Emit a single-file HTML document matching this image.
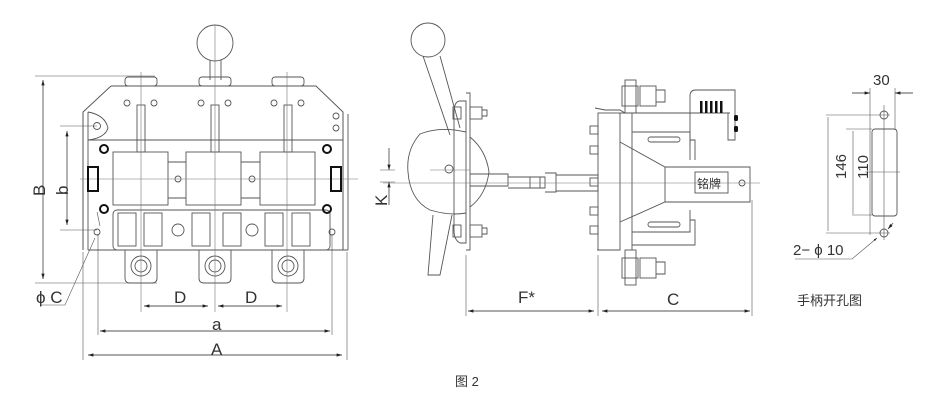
<!DOCTYPE html>
<html><head><meta charset="utf-8"><style>
html,body{margin:0;padding:0;background:#fff;width:928px;height:404px;overflow:hidden}
svg{display:block}
text{font-family:"Liberation Sans","Noto Sans CJK SC",sans-serif;fill:#333}
</style></head><body>
<svg width="928" height="404" viewBox="0 0 928 404" xmlns="http://www.w3.org/2000/svg">
<defs>
<marker id="ar" viewBox="0 0 10 10" refX="10" refY="5" markerWidth="6" markerHeight="6" orient="auto-start-reverse"><path d="M0,2 L10,5 L0,8 z" fill="#222"/></marker>
</defs>
<g fill="none" stroke="#555" stroke-width="0.9">
<circle cx="215" cy="43" r="18"/>
<path d="M210,60 V80 M221,60 V80"/>
<rect x="125" y="77" width="32" height="9" rx="3"/>
<rect x="199" y="77" width="32" height="9" rx="3"/>
<rect x="272" y="77" width="32" height="9" rx="3"/>
<path d="M111,86 H316 L343,112 V250 M111,86 L83,112 V250"/>
<path d="M83,112 V250 M88,112 V250 M343,112 V250 M348,114 V250"/>
<path d="M88,140 H343 M88,250 H348"/>
<path d="M88,112 Q105,115 108,128 Q105,138 88,140"/>
<rect x="113" y="152" width="55" height="53"/>
<rect x="186" y="152" width="55" height="53"/>
<rect x="260" y="152" width="55" height="53"/>
<path d="M168,162 H186 M241,162 H260 M168,198 H186 M241,198 H260"/>
<rect x="137" y="105" width="8" height="47"/><rect x="211" y="105" width="8" height="47"/><rect x="284" y="105" width="8" height="47"/>
<rect x="113" y="210" width="217" height="40" rx="4"/>
<rect x="118" y="213" width="18" height="33"/><rect x="144" y="213" width="18" height="33"/>
<rect x="192" y="213" width="18" height="33"/><rect x="223" y="213" width="18" height="33"/>
<rect x="265" y="213" width="18" height="33"/><rect x="292" y="213" width="18" height="33"/>
<circle cx="178" cy="230" r="6"/><circle cx="252" cy="230" r="6"/>
<path d="M125,250 V278 Q125,283 130,283 H152 Q157,283 157,278 V250 M199,250 V278 Q199,283 204,283 H226 Q231,283 231,278 V250 M272,250 V278 Q272,283 277,283 H299 Q304,283 304,278 V250"/>
<circle cx="141" cy="266" r="10"/><circle cx="141" cy="266" r="6"/>
<circle cx="215" cy="266" r="10"/><circle cx="215" cy="266" r="6"/>
<circle cx="288" cy="266" r="10"/><circle cx="288" cy="266" r="6"/>
<circle cx="127" cy="103" r="3"/><circle cx="154" cy="103" r="3"/><circle cx="201" cy="103" r="3"/><circle cx="228" cy="103" r="3"/><circle cx="274" cy="103" r="3"/><circle cx="301" cy="103" r="3"/>
<circle cx="336" cy="116" r="3"/><circle cx="336" cy="128" r="3"/>
<circle cx="178" cy="179" r="3"/><circle cx="252" cy="179" r="3"/>
<circle cx="97" cy="126" r="3.5"/><circle cx="97" cy="232" r="3"/><circle cx="332" cy="232" r="3"/>
<path d="M141,72 V312 M215,25 V312 M287,72 V312 M80,179 H358" stroke="#777" stroke-width="0.6"/>
<path d="M35,76 H155 M35,283 H157 M60,126 H97 M60,230 H97 M83,252 V360 M347,252 V360 M98,234 V335 M332,234 V335" stroke-width="0.6"/>
<path d="M43,80 V279" marker-start="url(#ar)" marker-end="url(#ar)"/>
<path d="M67,131 V225" marker-start="url(#ar)" marker-end="url(#ar)"/>
<path d="M144,306 H208" marker-start="url(#ar)" marker-end="url(#ar)"/>
<path d="M218,306 H282" marker-start="url(#ar)" marker-end="url(#ar)"/>
<path d="M100,331 H330" marker-start="url(#ar)" marker-end="url(#ar)"/>
<path d="M88,355 H342" marker-start="url(#ar)" marker-end="url(#ar)"/>
<path d="M40,305 H65 L95,238 M97,212 L100,226" stroke-width="0.6"/>
</g>
<g fill="none" stroke="#111" stroke-width="2">
<circle cx="104" cy="149" r="4"/><circle cx="104" cy="209" r="4"/><circle cx="327" cy="149" r="4"/><circle cx="327" cy="209" r="4"/>
<rect x="88" y="167" width="10" height="24"/><rect x="331" y="167" width="10" height="24"/>
</g>
<g fill="none" stroke="#555" stroke-width="0.9">
<circle cx="428" cy="40" r="17"/>
<path d="M423,56 L450,135 M440,56 L460,128 M433,215 L428,275 H440 L452,215"/>
<path d="M466,132 Q440,126 420,134 Q406,150 408,172 Q410,200 430,210 Q450,216 466,213 M470,137 Q486,150 489,172 Q486,195 470,207"/>
<circle cx="449" cy="169" r="4"/>
<path d="M460,101 H466 V243 H460 Q454,240 454,230 V110 Q455,101 460,101 M466,93 H470 V250 H466"/>
<rect x="453" y="107" width="8" height="12"/><rect x="470" y="107" width="12" height="12"/><path d="M482,110 H487 V116 H482"/>
<rect x="453" y="225" width="8" height="12"/><rect x="470" y="225" width="12" height="12"/><path d="M482,228 H487 V234 H482"/>
<path d="M470,174 H508 V186 H470 M508,177 H545 V188 H508 M530,177 V188 M540,177 V188 M545,173 H556 V192 H545 M556,175 H598 V191 H556"/>
<rect x="598" y="113" width="22" height="137"/>
<path d="M597,250 H620 M595,108 L605,110 H620 L625,113"/>
<rect x="590" y="126" width="8" height="8"/><rect x="590" y="146" width="8" height="8"/><rect x="590" y="178" width="8" height="8"/><rect x="590" y="207" width="8" height="8"/><rect x="590" y="226" width="8" height="8"/>
<path d="M620,142 L665,167 H750 V202 H665 L620,222 M620,113 H730 M632,113 V250 M665,167 V202"/>
<path d="M632,132 H690 V160 M632,232 H690 V210 M690,140 H695 V160 M690,220 H695 V245 H632"/>
<rect x="648" y="137" width="32" height="5" rx="2.5"/><rect x="648" y="222" width="32" height="5" rx="2.5"/>
<rect x="625" y="80" width="11" height="33"/><rect x="622" y="86" width="16" height="20"/><rect x="640" y="86" width="16" height="20"/><path d="M656,90 H665 V102 H656"/>
<rect x="625" y="250" width="11" height="35"/><rect x="622" y="258" width="16" height="20"/><rect x="640" y="258" width="16" height="20"/><path d="M656,262 H665 V274 H656"/>
<path d="M690,145 V96 Q690,90 696,90 H735 V140 H728 V113"/>
<rect x="695" y="172" width="33" height="21"/>
<circle cx="742" cy="183" r="3"/>
<path d="M383,183 H760 M430,170 H470" stroke="#777" stroke-width="0.6"/>
<path d="M380,170 H395 M380,182 H395" stroke-width="0.6"/>
<path d="M466,255 V316 M598,255 V316 M752,200 V316" stroke-width="0.6"/>
<path d="M389,148 V170" marker-end="url(#ar)"/>
<path d="M389,205 V182" marker-end="url(#ar)"/>
<path d="M468,311 H594" marker-start="url(#ar)" marker-end="url(#ar)"/>
<path d="M602,311 H750" marker-start="url(#ar)" marker-end="url(#ar)"/>
<path d="M870,88 V235 M895,88 V130" stroke-width="0.6"/>
<path d="M852,93 H870" marker-end="url(#ar)"/>
<path d="M913,93 H895" marker-end="url(#ar)"/>
<rect x="872" y="129" width="25" height="87" rx="3"/>
<circle cx="884" cy="115" r="4"/><circle cx="884" cy="233" r="4"/>
<path d="M826,115 H890 M846,129 H872 M852,215 H872 M826,233 H890 M884,105 V240 M865,172 H900" stroke-width="0.6"/>
<path d="M828,117 V231 M853,131 V214" stroke-width="0.6"/>
<path d="M795,259 H852 L877,238" stroke-width="0.6" marker-end="url(#ar)"/>
<path d="M893,223 L888,229" marker-end="url(#ar)"/>
</g>
<g fill="#111">
<rect x="700" y="101" width="2.5" height="12"/><rect x="705" y="101" width="2.5" height="12"/><rect x="710" y="101" width="2.5" height="12"/><rect x="715" y="101" width="2.5" height="12"/><rect x="720" y="101" width="2.5" height="12"/>
<rect x="734" y="115" width="4" height="6" rx="1.5"/><rect x="734" y="126" width="4" height="6" rx="1.5"/>
</g>
<g font-size="17">
<text x="28" y="193" transform="rotate(-90 38 186)">B</text>
<text x="52" y="193" transform="rotate(-90 61 186)">b</text>
<text x="36" y="303">ϕ C</text>
<text x="174" y="303">D</text>
<text x="245" y="303">D</text>
<text x="212" y="330">a</text>
<text x="211" y="355">A</text>
<text x="372" y="207" transform="rotate(-90 379 199)">K</text>
<text x="518" y="303">F*</text>
<text x="667" y="305">C</text>
<text x="873" y="85" font-size="15">30</text>
<text x="823" y="190" font-size="15" transform="rotate(-90 829 173)">146</text>
<text x="848" y="187" font-size="15" transform="rotate(-90 854 173)">110</text>
<text x="793" y="255" font-size="15">2− ϕ 10</text>
<text x="797" y="305" font-size="13">手柄开孔图</text>
<text x="697" y="188" font-size="12">铭牌</text>
<text x="455" y="386" font-size="13">图 2</text>
</g>
</svg>
</body></html>
